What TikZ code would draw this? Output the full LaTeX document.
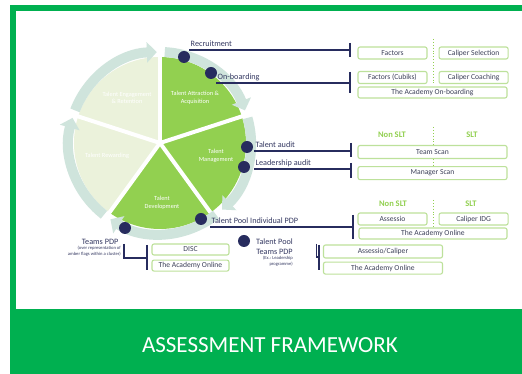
\documentclass[tikz,border=0pt]{standalone}
\usepackage{fontspec}
\setmainfont{Carlito}
\usetikzlibrary{positioning,arrows.meta}
\definecolor{framegreen}{HTML}{00B050}
\definecolor{leafgreen}{HTML}{92D050}
\definecolor{palegreen}{HTML}{EBF2DB}
\definecolor{ringgrey}{HTML}{CFE4DC}
\definecolor{navy}{HTML}{272C5E}
\definecolor{labeltext}{HTML}{353962}
\definecolor{boxline}{HTML}{BDE19B}
\definecolor{boxtext}{HTML}{3D4159}
\tikzset{%
  cut/.style     = { draw = white, line width = 4pt },
  ring/.style    = { draw = ringgrey, line width = 10pt,
                     -{Triangle[width = 20pt, length = 10pt]} },
  bullet/.style  = { circle, fill = navy, minimum size = 12pt, inner sep = 0pt },
  wlabel/.style  = { text = white, align = center, font = \fontsize{6.3}{7.4}\selectfont },
  lbl/.style     = { inner sep = 1.5pt, text = labeltext, font = \fontsize{8.2}{10}\selectfont },
  ulbl/.style    = { lbl, anchor = south west, text height = 1.5ex, text depth = 0.4ex },
  note/.style    = { text = labeltext, align = right, inner sep = 0pt,
                     font = \fontsize{4.6}{5.6}\selectfont },
  link/.style    = { draw = navy, line width = 1.6pt },
  endbar/.style  = { draw = navy, line width = 1.8pt },
  tbox/.style    = { draw = boxline, fill = white, line width = 1.1pt, rounded corners = 2pt,
                     text = boxtext, inner sep = 0pt, minimum width = #1, minimum height = 12pt,
                     font = \fontsize{7.6}{9}\selectfont },
  hdr/.style     = { text = leafgreen, font = \bfseries\fontsize{8.5}{10}\selectfont },
  divider/.style = { draw = leafgreen, line width = 0.9pt, dotted }
}
\begin{document}
\begin{tikzpicture}[x=1pt,y=1pt]
\useasboundingbox (0,0) rectangle (522,374);
% frame and banner
\fill[framegreen] (10,0) rectangle (522,369);
\fill[white] (16,65) rectangle (522,363);
\node(title) [text=white, font=\fontsize{23}{26}\selectfont] at (270,29) {ASSESSMENT FRAMEWORK};

% wheel
\coordinate (C) at (160,231);
\foreach \a/\c in {18/leafgreen, -54/leafgreen, -126/leafgreen, 162/palegreen, 90/palegreen}
  \fill[\c] (C) -- ++(\a:86) arc[start angle=\a, end angle=\a+72, radius=86] -- cycle;
\foreach \a in {18,90,162,234,306}
  \draw[cut] (C) -- ++(\a:88);
\foreach \s/\e in {159/92, 87/21, 16/-47, -52/-123, 232/164}
  \draw[ring] (C) ++(\s:91) arc[start angle=\s, end angle=\e, radius=91];

\node(attract) [wlabel] at (195,276) {Talent Attraction \&\\Acquisition};
\node(engage)  [wlabel] at (127,276) {Talent Engagement\\\& Retention};
\node(reward)  [wlabel] at (107,218) {Talent Rewarding};
\node(manage)  [wlabel] at (216,218) {Talent\\Management};
\node(develop) [wlabel] at (162,171) {Talent\\Development};

% dividers behind the boxes
\draw[divider] (433,335) -- (433,289);
\draw[divider] (433,247) -- (433,209);
\draw[divider] (433,174) -- (433,147);

% recruitment / on-boarding
\node(factors)    [tbox=69pt] at (392.5,321) {Factors};
\node(calSel)     [tbox=69pt, right=11pt of factors] {Caliper Selection};
\node(factorsCub) [tbox=69pt] at (392.5,296.5) {Factors (Cubiks)};
\node(calCoach)   [tbox=69pt, right=11pt of factorsCub] {Caliper Coaching};
\node(acadOnb)    [tbox=149pt, minimum height=11pt] at (432.5,281.5) {The Academy On-boarding};

% audits
\node(nonSlt1)  [hdr] at (392,239) {Non SLT};
\node(slt1)     [hdr] at (472,239) {SLT};
\node(teamScan) [tbox=149pt, minimum height=13pt] at (432.5,222) {Team Scan};
\node(mgrScan)  [tbox=149pt, minimum height=13pt, below=7pt of teamScan] {Manager Scan};

% individual PDP
\node(nonSlt2)  [hdr] at (393,170) {Non SLT};
\node(slt2)     [hdr] at (471,170) {SLT};
\node(assessio) [tbox=69pt] at (392.5,155) {Assessio};
\node(calIdg)   [tbox=69pt, right=11pt of assessio] {Caliper IDG};
\node(acadOnl1) [tbox=148pt, minimum height=11pt] at (433,140.5) {The Academy Online};

% team PDPs
\node(disc)     [tbox=77pt, minimum height=11pt] at (190.5,124.5) {DISC};
\node(acadOnl2) [tbox=77pt, minimum height=11pt, below=4pt of disc] {The Academy Online};
\node(assCal)   [tbox=119pt, minimum height=13pt] at (383,122.5) {Assessio/Caliper};
\node(acadOnl3) [tbox=119pt, below=3pt of assCal] {The Academy Online};

% labels
\node(recruit)   [ulbl] at (189,324) {Recruitment};
\node(onboard)   [ulbl] at (216,291) {On-boarding};
\node(talAudit)  [ulbl] at (254,223) {Talent audit};
\node(leadAudit) [ulbl] at (254,205) {Leadership audit};
\node(poolIndiv) [ulbl] at (210,147) {Talent Pool Individual PDP};
\node(teams)     [lbl, anchor=east] at (120,132) {Teams PDP};
\node(teamsNote) [note, anchor=north east] at (121,128) {(over representation of\\amber flags within a cluster)};
\node(poolTeams) [lbl, align=center] at (274.5,127) {Talent Pool\\Teams PDP};
\node(poolNote)  [note, anchor=north east] at (293,118) {(Ex.: Leadership\\programme)};

\coordinate (recruitEnd)   at (350,324);
\coordinate (onboardEnd)   at (350,291);
\coordinate (talAuditEnd)  at (351,223);
\coordinate (leadAuditEnd) at (351,205);
\coordinate (poolIndivEnd) at (353,147);
\coordinate (teamsEnd)     at (147,116);
\coordinate (poolTeamsEnd) at (319,117);

\draw[link] (recruit.south west) -- (recruitEnd);
\draw[endbar] ([yshift=7]recruitEnd) -- ([yshift=-7]recruitEnd);
\draw[link] (onboard.south west) -- (onboardEnd);
\draw[endbar] ([yshift=11]onboardEnd) -- ([yshift=-10]onboardEnd);
\draw[link] (talAudit.south west) -- (talAuditEnd);
\draw[endbar] ([yshift=8]talAuditEnd) -- ([yshift=-6]talAuditEnd);
\draw[link] (leadAudit.south west) -- (leadAuditEnd);
\draw[endbar] ([yshift=6]leadAuditEnd) -- ([yshift=-9]leadAuditEnd);
\draw[link] (poolIndiv.south west) -- (poolIndivEnd);
\draw[endbar] ([yshift=12]poolIndivEnd) -- ([yshift=-12]poolIndivEnd);
\draw[link] ([xshift=4,yshift=-2]teams.east) |- (teamsEnd);
\draw[endbar] ([yshift=13]teamsEnd) -- ([yshift=-12]teamsEnd);
\draw[link] ([xshift=22,yshift=3]poolTeams.east) |- (poolTeamsEnd);
\draw[endbar] ([yshift=12]poolTeamsEnd) -- ([yshift=-13]poolTeamsEnd);

% stage markers
\node(dRecruit)   [bullet] at (184,317) {};
\node(dOnboard)   [bullet] at (211,301) {};
\node(dTalAudit)  [bullet] at (247,227) {};
\node(dLeadAudit) [bullet] at (244,207) {};
\node(dPoolIndiv) [bullet] at (201,155) {};
\node(dTeams)     [bullet] at (125,146) {};
\node(dPoolTeams) [bullet] at (244,133) {};
\end{tikzpicture}
\end{document}
